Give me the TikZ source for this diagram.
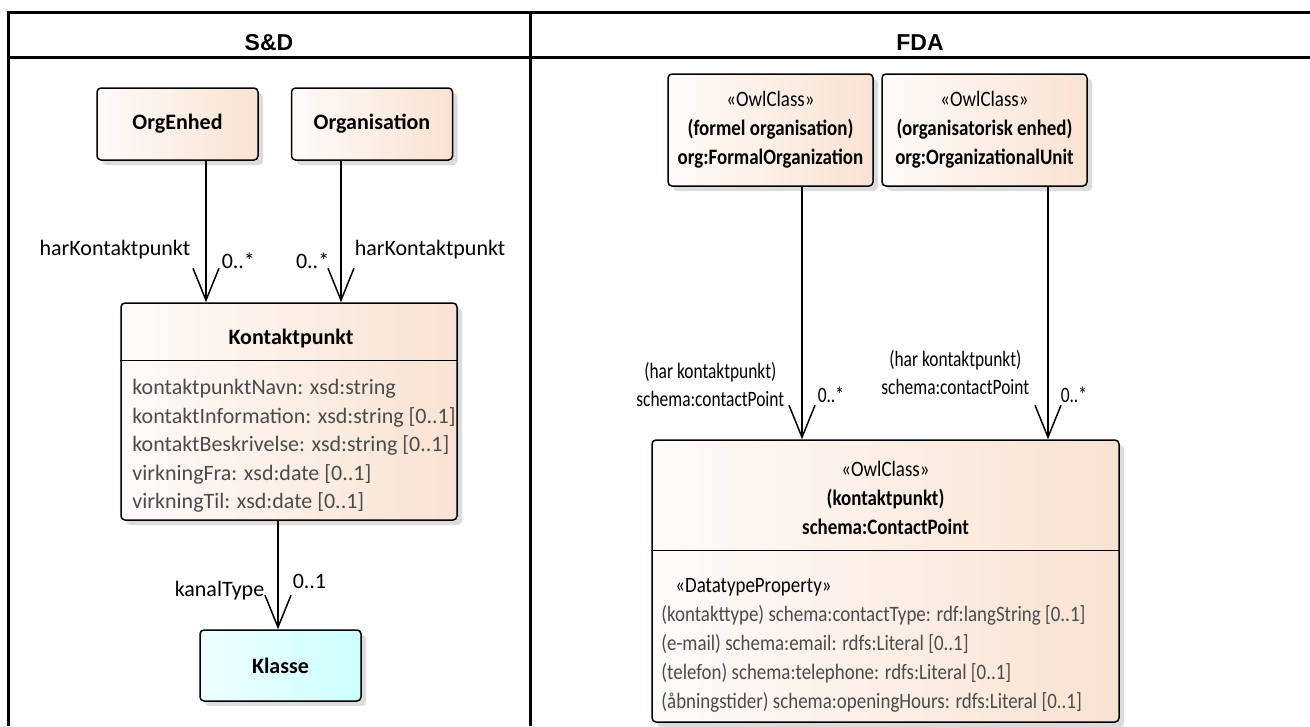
\documentclass[tikz,border=0pt]{standalone}
\usepackage{fontspec}
\setmainfont{Carlito}
\newfontfamily\fdafont{Carlito}[FakeStretch=0.86]
\newfontfamily\fdarolefont{Carlito}[FakeStretch=0.79]
\newfontfamily\headfont{Liberation Sans}
\usetikzlibrary{arrows.meta,shapes,positioning,shadows}

\definecolor{peach}{RGB}{249,226,210}
\definecolor{peachleft}{RGB}{254,251,249}
\definecolor{aqua}{RGB}{204,255,255}
\definecolor{aqualeft}{RGB}{240,255,255}
\definecolor{shadowgray}{RGB}{220,220,220}
\definecolor{attrgray}{RGB}{75,75,75}

\tikzset{
	classbox/.style={draw, line width=1.5pt, rounded corners=4pt, left color=peachleft, right color=peach, general shadow={fill=shadowgray, shadow xshift=5pt, shadow yshift=-5pt}, align=center, inner sep=0pt},
	valuebox/.style={classbox, left color=aqualeft, right color=aqua},
	assoc/.style={line width=1.5pt, -{Straight Barb[length=32pt,width=26pt]}},
	role/.style={inner sep=0pt},
	fda/.style={font=\fdafont\fontsize{22}{29}\selectfont},
	fdarole/.style={font=\fdarolefont\fontsize{22}{28}\selectfont},
	tabline/.style={line width=3pt},
	colhead/.style={anchor=base, font=\headfont\bfseries\fontsize{23}{28}\selectfont}
}

\begin{document}
\begin{tikzpicture}[x=1pt, y=-1pt]
			\fontsize{22}{28.5}\selectfont
			\useasboundingbox (0,0) rectangle (1310,726);
			\draw [tabline] (8,726) -- (8,12) -- (1310,12);
			\draw [tabline] (8,57) -- (1310,57);
			\draw [tabline] (530,12) -- (530,726);
			\node (sdhead) at (269,50) [colhead] {S\&D};
			\node (fdahead) at (920,50) [colhead] {FDA};

			\node (orgenhed) at (177.5,124) [classbox, minimum width=161pt, minimum height=72pt] {\bfseries OrgEnhed};
			\node (organisation) at (372,124) [classbox, minimum width=161pt, minimum height=72pt] {\bfseries Organisation};
			\node (kontaktpunkt) at (289,411.5) [classbox, minimum width=336pt, minimum height=217pt] {};
			\node (kontakttitle) at ([xshift=2pt,yshift=-36.3pt]kontaktpunkt.north) [inner sep=0pt] {\bfseries Kontaktpunkt};
			\node (kontaktattr) at ([xshift=12pt,yshift=-77pt]kontaktpunkt.north west) [anchor=north west, align=left, inner sep=0pt, text=attrgray] {kontaktpunktNavn: xsd:string\\kontaktInformation: xsd:string [0..1]\\kontaktBeskrivelse: xsd:string [0..1]\\virkningFra: xsd:date [0..1]\\virkningTil: xsd:date [0..1]};
			\draw [line width=1.5pt] ([yshift=-58pt]kontaktpunkt.north west) -- ([yshift=-58pt]kontaktpunkt.north east);
			\node (klasse) at (280.5,665.5) [valuebox, minimum width=161pt, minimum height=71pt] {\bfseries Klasse};

			\node (formal) at (770.5,130) [classbox, fda, minimum width=205pt, minimum height=112pt] {«OwlClass»\\\textbf{(formel organisation)}\\\textbf{org:FormalOrganization}};
			\node (orgunit) at (984.5,130) [classbox, fda, minimum width=205pt, minimum height=112pt] {«OwlClass»\\\textbf{(organisatorisk enhed)}\\\textbf{org:OrganizationalUnit}};
			\node (contactpoint) at (885.5,581) [classbox, minimum width=467pt, minimum height=282pt] {};
			\node (contacttitle) at ([yshift=-58.5pt]contactpoint.north) [fda, inner sep=0pt, align=center] {«OwlClass»\\\textbf{(kontaktpunkt)}\\\textbf{schema:ContactPoint}};
			\draw [line width=1.5pt] ([yshift=-111pt]contactpoint.north west) -- ([yshift=-111pt]contactpoint.north east);
			\node (contactattr) at ([xshift=10pt,yshift=-139pt]contactpoint.north west) [fda, anchor=north west, align=left, inner sep=0pt] {\hspace*{14pt}«DatatypeProperty»\\\textcolor{attrgray}{(kontakttype) schema:contactType: rdf:langString [0..1]}\\\textcolor{attrgray}{(e-mail) schema:email: rdfs:Literal [0..1]}\\\textcolor{attrgray}{(telefon) schema:telephone: rdfs:Literal [0..1]}\\\textcolor{attrgray}{(åbningstider) schema:openingHours: rdfs:Literal [0..1]}};

			\draw [assoc] ([xshift=28.5pt]orgenhed.south) -- ([xshift=28.5pt]orgenhed.south |- kontaktpunkt.north)
				node [role, pos=.627, anchor=east, xshift=-15pt] {harKontaktpunkt}
				node [role, pos=.704, anchor=west, xshift=15pt] {0..*};
			\draw [assoc] ([xshift=-31pt]organisation.south) -- ([xshift=-31pt]organisation.south |- kontaktpunkt.north)
				node [role, pos=.704, anchor=east, xshift=-11pt] {0..*}
				node [role, pos=.627, anchor=west, xshift=13pt] {harKontaktpunkt};
			\draw [assoc] ([xshift=-11pt]kontaktpunkt.south) -- ([xshift=-11pt]kontaktpunkt.south |- klasse.north)
				node [role, pos=.644, anchor=east, xshift=-13pt] {kanalType}
				node [role, pos=.555, anchor=west, xshift=14pt] {0..1};
			\draw [assoc] ([xshift=31.5pt]formal.south) -- ([xshift=31.5pt]formal.south |- contactpoint.north)
				node [role, fdarole, pos=.783, anchor=east, xshift=-17pt, align=center] {(har kontaktpunkt)\\schema:contactPoint}
				node [role, fdarole, pos=.823, anchor=west, xshift=15pt] {0..*};
			\draw [assoc] ([xshift=63.5pt]orgunit.south) -- ([xshift=63.5pt]orgunit.south |- contactpoint.north)
				node [role, fdarole, pos=.737, anchor=east, xshift=-18pt, align=center] {(har kontaktpunkt)\\schema:contactPoint}
				node [role, fdarole, pos=.823, anchor=west, xshift=12pt] {0..*};
		\end{tikzpicture}
\end{document}
